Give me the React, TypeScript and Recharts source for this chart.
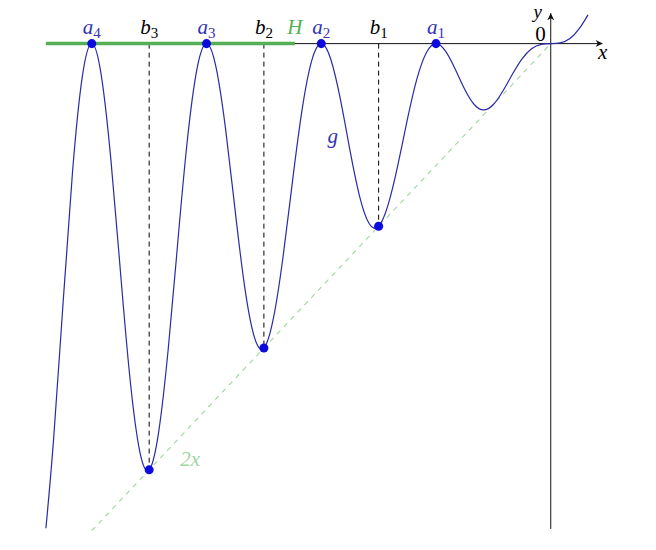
import { ComposedChart, Line, Scatter, XAxis, YAxis, ReferenceLine, ReferenceDot } from 'recharts'

const curveX = [
  -4.4, -4.333, -4.25, -4.167, -4.083, -4, -3.917, -3.833, -3.75, -3.667, -3.583, -3.5, -3.417, -3.333,
  -3.25, -3.167, -3.083, -3, -2.917, -2.833, -2.75, -2.667, -2.583, -2.5, -2.417, -2.333, -2.25, -2.167,
  -2.083, -2, -1.917, -1.833, -1.75, -1.667, -1.583, -1.5, -1.417, -1.333, -1.25, -1.167, -1.083, -1,
  -0.917, -0.833, -0.75, -0.667, -0.585, -0.5, -0.417, -0.333, -0.25, -0.167, -0.083, 0, 0.083, 0.167,
  0.25, 0.325,
]
const curveG = [
  -7.96, -6.5, -4.25, -2.083, -0.547, 0, -0.525, -1.917, -3.75, -5.5, -6.687, -7, -6.376, -5,
  -3.25, -1.583, -0.413, 0, -0.391, -1.417, -2.75, -4, -4.821, -5, -4.51, -3.5, -2.25, -1.083,
  -0.279, 0, -0.257, -0.917, -1.75, -2.5, -2.955, -3, -2.644, -2, -1.25, -0.583, -0.145, 0,
  -0.123, -0.417, -0.75, -1, -1.089, -1, -0.778, -0.5, -0.25, -0.083, -0.011, 0, 0.011, 0.083,
  0.25, 0.473,
]

// maxima a_k (on the x axis) and minima b_k (on the line 2x)
const aX = [-4, -3, -2, -1]
const aNames = ['4', '3', '2', '1']
const bX = [-3.5, -2.5, -1.5]
const bY = [-7, -5, -3]
const bNames = ['3', '2', '1']

// line y = 2x
const slopeX = [-4, 0]
const slopeY = [-8, 0]

// thick segment H on the x axis
const hFrom = -4.4
const hTo = -2.23

const BLUE_CURVE = '#2a2aa8'
const BLUE_DOT = '#0b0be0'
const BLUE_TEXT = '#3434b4'
const GREEN = '#55b055'
const LIGHT_GREEN = '#9fd69f'
const INK = '#111'
const FONT = "'Liberation Serif', 'DejaVu Serif', serif"

const curveData = curveX.map((x, i) => ({ x, g: curveG[i] }))
const slopeData = slopeX.map((x, i) => ({ x, y: slopeY[i] }))
const aPoints = aX.map((x) => ({ x, y: 0 }))
const bPoints = bX.map((x, i) => ({ x, y: bY[i] }))

function mathLabel(base: string, sub: string, color: string, dx: number, dy: number, anchor = 'middle', size = 21) {
  return (props: any) => (
    <text
      x={props.cx + dx}
      y={props.cy + dy}
      textAnchor={anchor}
      fill={color}
      style={{ fontFamily: FONT, fontSize: size }}
    >
      <tspan style={{ fontStyle: /[a-zA-Z]/.test(base) ? 'italic' : 'normal' }}>{base}</tspan>
      {sub ? (
        <tspan dy={4} style={{ fontSize: 15, fontStyle: 'normal' }}>
          {sub}
        </tspan>
      ) : null}
    </text>
  )
}

function arrowRight(props: any) {
  const { cx, cy } = props
  return <path d={`M${cx} ${cy} L${cx - 7} ${cy - 3.5} L${cx - 5} ${cy} L${cx - 7} ${cy + 3.5} Z`} fill={INK} />
}

function arrowUp(props: any) {
  const { cx, cy } = props
  return <path d={`M${cx} ${cy} L${cx - 3.5} ${cy + 7} L${cx} ${cy + 5} L${cx + 3.5} ${cy + 7} Z`} fill={INK} />
}

export default function App() {
  return (
    <div style={{ position: 'absolute', left: 0, top: 0, width: 656, height: 550, background: '#fff' }}>
      <ComposedChart width={656} height={550} margin={{ top: 1, right: 2, bottom: 1, left: 0 }}>
        <XAxis type="number" dataKey="x" domain={[-4.8, 0.9]} allowDataOverflow hide />
        <YAxis type="number" domain={[-8.3, 0.7]} allowDataOverflow hide />

        {/* dashed verticals at b_k */}
        {bPoints.map((p) => (
          <ReferenceLine
            key={`bv-${p.x}`}
            segment={[{ x: p.x, y: 0 }, { x: p.x, y: p.y }]}
            stroke="#000"
            strokeDasharray="5 4"
            strokeWidth={1}
          />
        ))}

        {/* axes */}
        <ReferenceLine segment={[{ x: -4.4, y: 0 }, { x: 0.45, y: 0 }]} stroke={INK} strokeWidth={1} />
        <ReferenceLine segment={[{ x: 0, y: -7.97 }, { x: 0, y: 0.5 }]} stroke={INK} strokeWidth={1} />
        <ReferenceDot x={0.453} y={0} r={1} shape={arrowRight} />
        <ReferenceDot x={0} y={0.5} r={1} shape={arrowUp} />

        <ReferenceLine segment={[{ x: hFrom, y: 0 }, { x: hTo, y: 0 }]} stroke={GREEN} strokeWidth={3.5} />

        <Line
          data={slopeData}
          dataKey="y"
          type="linear"
          stroke={LIGHT_GREEN}
          strokeWidth={1.1}
          strokeDasharray="5 5"
          dot={false}
          activeDot={false}
          isAnimationActive={false}
        />
        <Line
          data={curveData}
          dataKey="g"
          type="natural"
          stroke={BLUE_CURVE}
          strokeWidth={1.2}
          dot={false}
          activeDot={false}
          isAnimationActive={false}
        />
        <Scatter data={aPoints} dataKey="y" fill={BLUE_DOT} shape="circle" isAnimationActive={false} />
        <Scatter data={bPoints} dataKey="y" fill={BLUE_DOT} shape="circle" isAnimationActive={false} />

        {/* labels */}
        {aX.map((x, i) => (
          <ReferenceDot key={`al-${x}`} x={x} y={0} r={1} shape={mathLabel('a', aNames[i], BLUE_TEXT, 0, -10)} />
        ))}
        {bX.map((x, i) => (
          <ReferenceDot key={`bl-${x}`} x={x} y={0} r={1} shape={mathLabel('b', bNames[i], '#000', 0, -10)} />
        ))}
        <ReferenceDot x={hTo} y={0} r={1} shape={mathLabel('H', '', GREEN, 0, -10)} />
        <ReferenceDot x={0} y={0} r={1} shape={mathLabel('0', '', '#000', -5, -3, 'end')} />
        <ReferenceDot x={0} y={0.5} r={1} shape={mathLabel('y', '', '#000', -13, 5, 'middle', 19)} />
        <ReferenceDot x={0.453} y={0} r={1} shape={mathLabel('x', '', '#000', 0, 15)} />
        <ReferenceDot x={-1.9} y={-1.63} r={1} shape={mathLabel('g', '', BLUE_TEXT, 0, 0)} />
        <ReferenceDot x={bX[0]} y={bY[0]} r={1} shape={mathLabel('2x', '', LIGHT_GREEN, 41, -4)} />
      </ComposedChart>
    </div>
  )
}
